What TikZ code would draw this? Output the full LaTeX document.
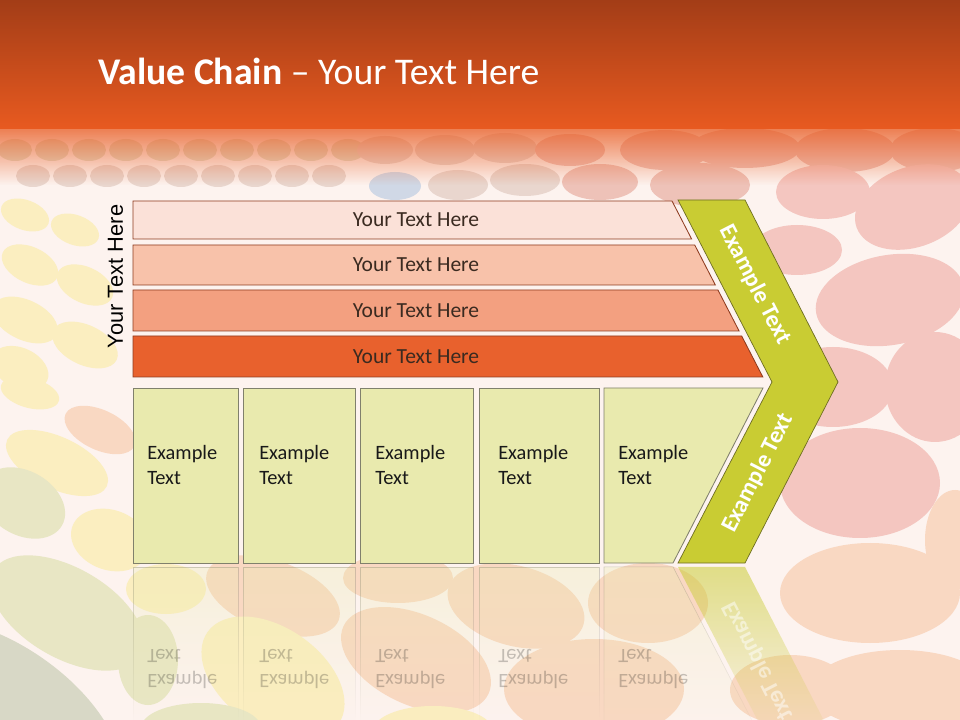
\documentclass[tikz,border=0pt]{standalone}
\usepackage{fontspec}
\usepackage{graphicx}
\setmainfont{Carlito}
\newfontfamily\arialfont{Liberation Sans}
\usetikzlibrary{fadings}
\definecolor{hdrtop}{HTML}{A33D17}
\definecolor{hdrbot}{HTML}{E85A20}
\definecolor{paper}{HTML}{FDF3EF}
\definecolor{barA}{HTML}{FBE1D8}
\definecolor{barB}{HTML}{F8C2AA}
\definecolor{barC}{HTML}{F3A080}
\definecolor{barD}{HTML}{E8612D}
\definecolor{barrim}{HTML}{8E3B1F}
\definecolor{boxfill}{HTML}{E9EAAE}
\definecolor{boxrim}{HTML}{80806C}
\definecolor{chev}{HTML}{C9CC33}
\definecolor{chevrim}{HTML}{6E6E22}
\definecolor{textdark}{HTML}{3A2A20}
\definecolor{eYel}{HTML}{FBEEC0}
\definecolor{ePeach}{HTML}{F9D8C2}
\definecolor{ePink}{HTML}{F4C6C0}
\definecolor{ePinkD}{HTML}{EEC2B8}
\definecolor{eOlive}{HTML}{E8E6C4}
\definecolor{eGray}{HTML}{D8D8C6}
\definecolor{eMute}{HTML}{E9D6CE}
\definecolor{eMuteG}{HTML}{E2DCC8}
\definecolor{eBlue}{HTML}{D0D8E6}
\begin{document}
\begin{tikzpicture}[x=0.025cm,y=-0.025cm,
  barline/.style={draw=barrim,line width=0.6pt},
  boxline/.style={draw=boxrim,fill=boxfill,line width=0.6pt},
  chevline/.style={draw=chevrim,fill=chev,line width=0.5pt},
  bartext/.style={font=\fontsize{15.3}{18}\selectfont,text=textdark,inner sep=0pt},
  boxtext/.style={font=\fontsize{14.5}{17.7}\selectfont,text=black!90,align=left,anchor=north west,inner sep=0pt},
  chevtext/.style={font=\bfseries\fontsize{17}{20}\selectfont,text=white,inner sep=0pt},
  mirrortext/.style={font=\fontsize{14.5}{17.7}\selectfont,text=black,text opacity=0.22,anchor=base west,inner sep=0pt},
  sidetext/.style={font=\arialfont\fontsize{15.5}{18}\selectfont,text=black,inner sep=0pt},
  titletext/.style={font=\fontsize{26.8}{30}\selectfont,text=white,inner sep=0pt}]

\useasboundingbox (0,0) rectangle (960,720);
\fill[paper] (0,0) rectangle (960,720);

% spots
\foreach \x in {15,52,...,350}
  \fill[eMuteG] (\x,150) ellipse[x radius=17,y radius=11];
\foreach \x in {33,70,...,330}
  \fill[eMute] (\x,176) ellipse[x radius=17,y radius=11];
\foreach \x/\y/\a/\b/\r/\c in {
  385/150/28/14/0/eMute, 445/150/30/15/0/eMute, 505/148/32/15/0/eMute,
  570/150/35/16/0/ePinkD, 395/186/26/14/0/eBlue, 458/185/30/15/0/eMute,
  525/180/35/16/0/eMute, 600/182/38/18/0/ePinkD, 665/150/45/20/0/ePinkD,
  745/148/55/20/0/ePinkD, 845/150/50/22/0/ePinkD, 935/150/45/22/0/ePinkD,
  700/185/50/22/0/ePinkD, 823/192/47/27/0/ePink, 913/207/60/40/20/ePink,
  797/250/45/25/0/ePink, 890/300/75/45/10/ePink, 833/387/60/40/0/ePink,
  935/387/50/55/0/ePink, 860/483/80/55/0/ePink, 955/540/30/50/0/ePeach,
  870/593/90/50/0/ePeach, 900/690/90/40/0/ePeach, 790/690/60/35/0/ePeach,
  25/215/25/15/-20/eYel, 75/230/25/15/-20/eYel, 30/265/30/18/-25/eYel,
  85/285/30/18/-25/eYel, 25/320/35/20/-25/eYel, 85/345/35/20/-25/eYel,
  20/368/30/20/-25/eYel, 30/393/30/15/-15/eYel, 100/430/38/20/-25/ePeach,
  57/463/55/26/-25/eYel, 23/503/45/32/-30/eOlive, 110/540/40/30/-20/eYel,
  67/613/85/45/-30/eOlive, 0/720/140/75/-35/eGray, 166/589/40/25/0/eYel,
  273/596/70/35/-20/ePeach, 398/578/55/25/0/ePeach, 148/660/30/45/0/eOlive,
  273/678/80/50/-35/eYel, 416/660/80/45/-25/ePeach, 516/606/70/40/-15/ePeach,
  648/603/60/40/0/ePeach, 594/689/90/50/0/ePeach, 433/731/60/25/0/eYel,
  201/728/60/25/0/eOlive}
  \fill[\c] (\x,\y) ellipse[x radius=\a,y radius=\b,rotate=\r];

% header
\shade[top color=hdrtop,bottom color=hdrbot] (0,0) rectangle (960,129);
\fill[hdrbot,fill opacity=0.75,path fading=south] (0,129) rectangle (960,185);
\node[titletext,anchor=base west] (title) at (98,84.5) {\textbf{Value Chain} – Your Text Here};

% bars
\foreach \t/\b/\c [count=\i] in {201/239/barA,245/285/barB,290/331/barC,336/377/barD}{
  \draw[barline,fill=\c] (133,\t) -- ({672+0.516*(\t-201)},\t) -- ({672+0.516*(\b-201)},\b) -- (133,\b) -- cycle;
  \node[bartext] (bar\i) at (416,{(\t+\b)/2}) {Your Text Here};
}
\node[sidetext,rotate=90] (side) at (115.5,276.5) {Your Text Here};

% reflections
\foreach \l/\r/\tx [count=\i] in {133/238/147,243/355/259,360/473/375,479/599/498}{
  \draw[draw=boxrim,fill=boxfill,draw opacity=0.35,fill opacity=0.3,path fading=south] (\l,567) rectangle (\r,720);
  \node[mirrortext] (mA\i) at (\tx,674) {\scalebox{1}[-1]{Example}};
  \node[mirrortext] (mB\i) at (\tx,649) {\scalebox{1}[-1]{Text}};
}
\draw[draw=boxrim,fill=boxfill,draw opacity=0.35,fill opacity=0.3,path fading=south] (604,567) -- (673,567) -- (763,742) -- (604,742) -- cycle;
\node[mirrortext] (mA5) at (618,674) {\scalebox{1}[-1]{Example}};
\node[mirrortext] (mB5) at (618,649) {\scalebox{1}[-1]{Text}};
\fill[chev,fill opacity=0.55,path fading=south] (678,567) -- (745,567) -- (838,748) -- (772,748) -- cycle;
\node[chevtext,text opacity=0.5,rotate=-62.9] (mchev) at (758,661) {\scalebox{1}[-1]{Example Text}};

% boxes
\foreach \l/\r/\tx [count=\i] in {133/238/147,243/355/259,360/473/375,479/599/498}{
  \draw[boxline] (\l,388) rectangle (\r,563);
  \node[boxtext] (box\i) at (\tx,445) {Example\\Text};
}
\draw[boxline] (604,388) -- (763,388) -- (673,563) -- (604,563) -- cycle;
\node[boxtext] (box5) at (618,445) {Example\\Text};

% chevron
\draw[chevline] (678,200) -- (745,200) -- (838,382) -- (745,563) -- (678,563) -- (772,382) -- cycle;
\node[chevtext,rotate=-62.9] (chevup) at (755,285) {Example Text};
\node[chevtext,rotate=62.9] (chevlow) at (758,473) {Example Text};
\end{tikzpicture}
\end{document}
